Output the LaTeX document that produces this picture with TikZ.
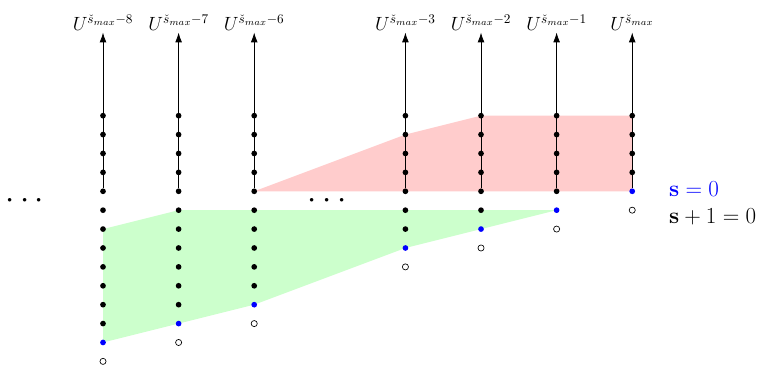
\documentclass[tikz,border=0pt]{standalone}
\usepackage{amsmath}
\usepackage{amssymb}
\usepackage{tikz}
\usetikzlibrary{arrows.meta, positioning}
\tikzstyle{arrow} = [semithick, -{Latex[length=2.6mm, width=1.8mm]}]
\tikzstyle{dot} = [circle, fill=black, inner sep=0pt, minimum size=4.3pt]
\tikzstyle{bdot} = [circle, fill=blue, inner sep=0pt, minimum size=4.3pt]
\tikzstyle{odot} = [circle, draw=black, fill=white, line width=0.5pt, inner sep=0pt, minimum size=4.6pt]

\begin{document}
\begin{tikzpicture}
    \useasboundingbox (-2.725,-4.57) rectangle (17.38,5.06);
    % shaded regions
    \fill[red!20]   (4,0) -- (8,1.5) -- (10,2) -- (14,2) -- (14,0) -- cycle;
    \fill[green!20] (0,-4) -- (0,-1) -- (2,-0.5) -- (12,-0.5) -- (10,-1) -- (8,-1.5) -- (4,-3) -- (2,-3.5) -- cycle;
    % columns: position / offset / label
    \foreach \k/\j/\lab in {0/-8/-8, 1/-7/-7, 2/-6/-6, 4/-3/-3, 5/-2/-2, 6/-1/-1, 7/0/} {
      \coordinate (top\k) at (2*\k,4.2);
      \node[above=-1pt of top\k, inner sep=2pt] (U\k) {\Large $U^{\check{s}_{max}\lab}$};
      \pgfmathtruncatemacro{\lo}{\j+1}
      \foreach \r in {\lo,...,4} {
        \node[dot] (d\k-\r) at (2*\k,0.5*\r) {};
      }
      \node[bdot] (d\k-\j) at (2*\k,0.5*\j) {};
      \node[odot] (o\k) at (2*\k,0.5*\j-0.5) {};
      \draw[arrow] (d\k-0) -- (top\k);
    }
    \node (ldots) at (-2,-0.25) {\Huge $\cdots$};
    \node (mdots) at (6,-0.25) {\Huge $\cdots$};
    \node[anchor=west, text=blue] (s0) at (14.85,0.06) {\LARGE $\mathbf{s}=0$};
    \node[anchor=west] (s1) at (14.85,-0.67) {\LARGE $\mathbf{s}+1=0$};
  \end{tikzpicture}
\end{document}
